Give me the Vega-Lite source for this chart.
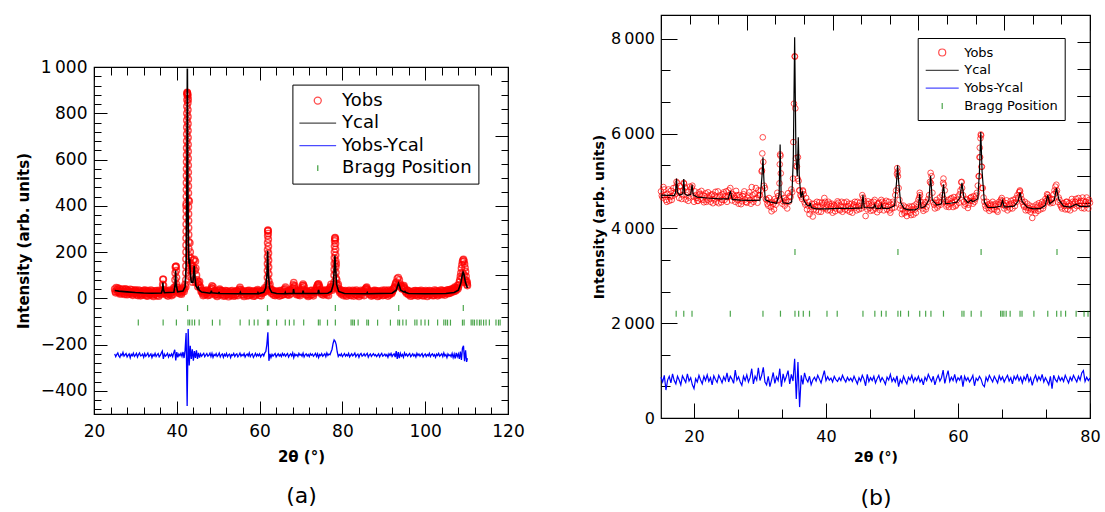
{
"$schema": "https://vega.github.io/schema/vega-lite/v6.json",
"background": "white",
"padding": {"left": 15, "top": 13, "right": 0, "bottom": 0},
"spacing": 66,
"config": {
  "font": "DejaVu Sans",
  "view": {"stroke": "#000000", "strokeWidth": 1.2},
  "axis": {"grid": false, "domain": false, "tickColor": "#000000", "tickWidth": 1, "labelColor": "#000000", "titleColor": "#000000", "labelFont": "DejaVu Sans", "titleFont": "DejaVu Sans", "labelFlush": false, "labelOverlap": false},
  "legend": {"labelFont": "DejaVu Sans", "labelColor": "#000000"}
},
"resolve": {"scale": {"color": "independent", "shape": "independent"}, "legend": {"color": "independent", "shape": "independent"}},
"datasets": {
"a": [
{"x":25,"o":40,"d":-240},{"x":25.25,"o":24,"d":-252},{"x":25.5,"o":37,"d":-243},{"x":25.75,"o":44,"d":-236},{"x":26,"o":25,"d":-249},{"x":26.25,"o":19,"d":-255},{"x":26.5,"o":36,"d":-241},{"x":26.75,"o":28,"d":-247},{"x":27,"o":40,"d":-234},{"x":27.25,"o":22,"d":-250},{"x":27.5,"o":29,"d":-244},{"x":27.75,"o":38,"d":-239},{"x":28,"o":16,"d":-253},{"x":28.25,"o":33,"d":-246},{"x":28.5,"o":24,"d":-240},{"x":28.75,"o":39,"d":-257},{"x":29,"o":18,"d":-242},{"x":29.25,"o":28,"d":-248},{"x":29.5,"o":20,"d":-237},{"x":29.75,"o":35,"d":-251},
{"x":30,"o":31,"d":-245},{"x":30.25,"o":15,"d":-238},{"x":30.5,"o":28,"d":-254},{"x":30.75,"o":36,"d":-243},{"x":31,"o":18,"d":-236},{"x":31.25,"o":11,"d":-249},{"x":31.5,"o":29,"d":-247},{"x":31.75,"o":22,"d":-241},{"x":32,"o":34,"d":-255},{"x":32.25,"o":15,"d":-239},{"x":32.5,"o":23,"d":-250},{"x":32.75,"o":31,"d":-244},{"x":33,"o":10,"d":-237},{"x":33.25,"o":28,"d":-252},{"x":33.5,"o":19,"d":-246},{"x":33.75,"o":35,"d":-240},{"x":34,"o":13,"d":-256},{"x":34.25,"o":24,"d":-243},{"x":34.5,"o":15,"d":-249},{"x":34.75,"o":32,"d":-238},
{"x":35,"o":27,"d":-251},{"x":35.25,"o":12,"d":-244},{"x":35.5,"o":25,"d":-239},{"x":35.75,"o":34,"d":-253},{"x":36,"o":22,"d":-247},{"x":36.25,"o":30,"d":-236},{"x":36.5,"o":30,"d":-228},{"x":36.75,"o":82,"d":-262},{"x":37,"o":28,"d":-241},{"x":37.25,"o":26,"d":-250},{"x":37.5,"o":14,"d":-245},{"x":37.75,"o":31,"d":-238},{"x":38,"o":19,"d":-254},{"x":38.25,"o":35,"d":-243},{"x":38.5,"o":24,"d":-249},{"x":38.75,"o":12,"d":-240},{"x":39,"o":30,"d":-252},{"x":39.25,"o":45,"d":-236},{"x":39.5,"o":40,"d":-222},{"x":39.75,"o":138,"d":-268},
{"x":40,"o":50,"d":-232},{"x":40.25,"o":45,"d":-255},{"x":40.5,"o":30,"d":-241},{"x":40.75,"o":20,"d":-248},{"x":41,"o":36,"d":-238},{"x":41.25,"o":25,"d":-251},{"x":41.5,"o":42,"d":-232},{"x":41.75,"o":30,"d":-258},{"x":42,"o":60,"d":-225},{"x":42.25,"o":400,"d":-150},{"x":42.5,"o":888,"d":-465},{"x":42.75,"o":860,"d":-133},{"x":43,"o":420,"d":-290},{"x":43.25,"o":200,"d":-205},{"x":43.5,"o":140,"d":-262},{"x":43.75,"o":130,"d":-220},{"x":44,"o":165,"d":-270},{"x":44.25,"o":168,"d":-228},{"x":44.5,"o":160,"d":-258},{"x":44.75,"o":100,"d":-225},
{"x":45,"o":65,"d":-262},{"x":45.25,"o":70,"d":-236},{"x":45.5,"o":72,"d":-256},{"x":45.75,"o":48,"d":-240},{"x":46,"o":35,"d":-250},{"x":46.25,"o":20,"d":-243},{"x":46.5,"o":32,"d":-238},{"x":46.75,"o":15,"d":-252},{"x":47,"o":28,"d":-245},{"x":47.25,"o":36,"d":-239},{"x":47.5,"o":12,"d":-250},{"x":47.75,"o":26,"d":-246},{"x":48,"o":20,"d":-237},{"x":48.25,"o":38,"d":-252},{"x":48.5,"o":54,"d":-238},{"x":48.75,"o":50,"d":-255},{"x":49,"o":30,"d":-243},{"x":49.25,"o":14,"d":-248},{"x":49.5,"o":27,"d":-239},{"x":49.75,"o":8,"d":-251},
{"x":50,"o":25,"d":-246},{"x":50.25,"o":36,"d":-237},{"x":50.5,"o":34,"d":-253},{"x":50.75,"o":18,"d":-244},{"x":51,"o":30,"d":-240},{"x":51.25,"o":10,"d":-255},{"x":51.5,"o":24,"d":-242},{"x":51.75,"o":33,"d":-249},{"x":52,"o":14,"d":-238},{"x":52.25,"o":27,"d":-252},{"x":52.5,"o":7,"d":-245},{"x":52.75,"o":22,"d":-241},{"x":53,"o":31,"d":-256},{"x":53.25,"o":13,"d":-243},{"x":53.5,"o":25,"d":-247},{"x":53.75,"o":9,"d":-238},{"x":54,"o":29,"d":-251},{"x":54.25,"o":18,"d":-244},{"x":54.5,"o":33,"d":-240},{"x":54.75,"o":12,"d":-253},
{"x":55,"o":36,"d":-246},{"x":55.25,"o":47,"d":-237},{"x":55.5,"o":38,"d":-250},{"x":55.75,"o":16,"d":-243},{"x":56,"o":28,"d":-248},{"x":56.25,"o":8,"d":-239},{"x":56.5,"o":23,"d":-254},{"x":56.75,"o":31,"d":-245},{"x":57,"o":11,"d":-241},{"x":57.25,"o":26,"d":-249},{"x":57.5,"o":34,"d":-236},{"x":57.75,"o":15,"d":-252},{"x":58,"o":22,"d":-244},{"x":58.25,"o":30,"d":-240},{"x":58.5,"o":9,"d":-255},{"x":58.75,"o":24,"d":-247},{"x":59,"o":17,"d":-238},{"x":59.25,"o":32,"d":-250},{"x":59.5,"o":38,"d":-242},{"x":59.75,"o":26,"d":-248},
{"x":60,"o":13,"d":-240},{"x":60.25,"o":28,"d":-253},{"x":60.5,"o":21,"d":-245},{"x":60.75,"o":35,"d":-241},{"x":61,"o":30,"d":-249},{"x":61.25,"o":45,"d":-236},{"x":61.5,"o":35,"d":-230},{"x":61.75,"o":48,"d":-200},{"x":62,"o":295,"d":-147},{"x":62.25,"o":55,"d":-270},{"x":62.5,"o":60,"d":-240},{"x":62.75,"o":40,"d":-256},{"x":63,"o":33,"d":-242},{"x":63.25,"o":20,"d":-250},{"x":63.5,"o":28,"d":-244},{"x":63.75,"o":12,"d":-239},{"x":64,"o":30,"d":-253},{"x":64.25,"o":18,"d":-246},{"x":64.5,"o":26,"d":-240},{"x":64.75,"o":10,"d":-249},
{"x":65,"o":31,"d":-243},{"x":65.25,"o":22,"d":-252},{"x":65.5,"o":14,"d":-238},{"x":65.75,"o":29,"d":-247},{"x":66,"o":38,"d":-241},{"x":66.25,"o":48,"d":-250},{"x":66.5,"o":30,"d":-244},{"x":66.75,"o":15,"d":-239},{"x":67,"o":27,"d":-254},{"x":67.25,"o":35,"d":-245},{"x":67.5,"o":20,"d":-240},{"x":67.75,"o":30,"d":-249},{"x":68,"o":45,"d":-236},{"x":68.25,"o":68,"d":-256},{"x":68.5,"o":55,"d":-241},{"x":68.75,"o":28,"d":-248},{"x":69,"o":16,"d":-243},{"x":69.25,"o":30,"d":-251},{"x":69.5,"o":23,"d":-238},{"x":69.75,"o":12,"d":-246},
{"x":70,"o":32,"d":-242},{"x":70.25,"o":45,"d":-250},{"x":70.5,"o":62,"d":-237},{"x":70.75,"o":50,"d":-253},{"x":71,"o":27,"d":-244},{"x":71.25,"o":14,"d":-240},{"x":71.5,"o":29,"d":-249},{"x":71.75,"o":8,"d":-243},{"x":72,"o":25,"d":-252},{"x":72.25,"o":33,"d":-239},{"x":72.5,"o":16,"d":-246},{"x":72.75,"o":28,"d":-241},{"x":73,"o":11,"d":-250},{"x":73.25,"o":30,"d":-244},{"x":73.5,"o":24,"d":-238},{"x":73.75,"o":45,"d":-251},{"x":74,"o":58,"d":-240},{"x":74.25,"o":63,"d":-256},{"x":74.5,"o":48,"d":-243},{"x":74.75,"o":30,"d":-248},
{"x":75,"o":18,"d":-239},{"x":75.25,"o":33,"d":-250},{"x":75.5,"o":22,"d":-245},{"x":75.75,"o":35,"d":-240},{"x":76,"o":28,"d":-252},{"x":76.25,"o":16,"d":-236},{"x":76.5,"o":30,"d":-247},{"x":76.75,"o":38,"d":-241},{"x":77,"o":45,"d":-244},{"x":77.25,"o":60,"d":-232},{"x":77.5,"o":35,"d":-220},{"x":77.75,"o":45,"d":-195},{"x":78,"o":70,"d":-180},{"x":78.25,"o":262,"d":-186},{"x":78.5,"o":150,"d":-200},{"x":78.75,"o":45,"d":-232},{"x":79,"o":60,"d":-251},{"x":79.25,"o":40,"d":-243},{"x":79.5,"o":30,"d":-248},{"x":79.75,"o":18,"d":-240},
{"x":80,"o":28,"d":-252},{"x":80.25,"o":12,"d":-245},{"x":80.5,"o":25,"d":-239},{"x":80.75,"o":33,"d":-250},{"x":81,"o":9,"d":-243},{"x":81.25,"o":24,"d":-248},{"x":81.5,"o":31,"d":-238},{"x":81.75,"o":14,"d":-253},{"x":82,"o":27,"d":-246},{"x":82.25,"o":20,"d":-240},{"x":82.5,"o":34,"d":-249},{"x":82.75,"o":10,"d":-244},{"x":83,"o":26,"d":-237},{"x":83.25,"o":15,"d":-252},{"x":83.5,"o":30,"d":-245},{"x":83.75,"o":22,"d":-241},{"x":84,"o":8,"d":-255},{"x":84.25,"o":27,"d":-243},{"x":84.5,"o":34,"d":-238},{"x":84.75,"o":16,"d":-250},
{"x":85,"o":25,"d":-246},{"x":85.25,"o":12,"d":-240},{"x":85.5,"o":38,"d":-249},{"x":85.75,"o":45,"d":-243},{"x":86,"o":40,"d":-238},{"x":86.25,"o":30,"d":-254},{"x":86.5,"o":18,"d":-245},{"x":86.75,"o":26,"d":-240},{"x":87,"o":10,"d":-251},{"x":87.25,"o":29,"d":-244},{"x":87.5,"o":33,"d":-239},{"x":87.75,"o":14,"d":-248},{"x":88,"o":23,"d":-243},{"x":88.25,"o":31,"d":-252},{"x":88.5,"o":8,"d":-246},{"x":88.75,"o":25,"d":-240},{"x":89,"o":16,"d":-253},{"x":89.25,"o":30,"d":-244},{"x":89.5,"o":21,"d":-238},{"x":89.75,"o":12,"d":-250},
{"x":90,"o":28,"d":-246},{"x":90.25,"o":35,"d":-241},{"x":90.5,"o":17,"d":-249},{"x":90.75,"o":24,"d":-243},{"x":91,"o":10,"d":-255},{"x":91.25,"o":30,"d":-240},{"x":91.5,"o":22,"d":-247},{"x":91.75,"o":34,"d":-238},{"x":92,"o":26,"d":-251},{"x":92.25,"o":38,"d":-244},{"x":92.5,"o":45,"d":-240},{"x":92.75,"o":58,"d":-254},{"x":93,"o":70,"d":-228},{"x":93.25,"o":85,"d":-262},{"x":93.5,"o":90,"d":-232},{"x":93.75,"o":80,"d":-258},{"x":94,"o":62,"d":-238},{"x":94.25,"o":48,"d":-250},{"x":94.5,"o":40,"d":-243},{"x":94.75,"o":52,"d":-255},
{"x":95,"o":45,"d":-236},{"x":95.25,"o":30,"d":-247},{"x":95.5,"o":22,"d":-241},{"x":95.75,"o":34,"d":-250},{"x":96,"o":15,"d":-244},{"x":96.25,"o":26,"d":-239},{"x":96.5,"o":9,"d":-252},{"x":96.75,"o":28,"d":-246},{"x":97,"o":20,"d":-240},{"x":97.25,"o":32,"d":-249},{"x":97.5,"o":13,"d":-243},{"x":97.75,"o":25,"d":-254},{"x":98,"o":31,"d":-238},{"x":98.25,"o":10,"d":-247},{"x":98.5,"o":27,"d":-241},{"x":98.75,"o":18,"d":-250},{"x":99,"o":34,"d":-244},{"x":99.25,"o":12,"d":-239},{"x":99.5,"o":24,"d":-253},{"x":99.75,"o":30,"d":-245},
{"x":100,"o":15,"d":-240},{"x":100.25,"o":28,"d":-251},{"x":100.5,"o":8,"d":-243},{"x":100.75,"o":26,"d":-248},{"x":101,"o":33,"d":-238},{"x":101.25,"o":17,"d":-252},{"x":101.5,"o":24,"d":-244},{"x":101.75,"o":12,"d":-240},{"x":102,"o":29,"d":-249},{"x":102.25,"o":36,"d":-243},{"x":102.5,"o":19,"d":-255},{"x":102.75,"o":27,"d":-241},{"x":103,"o":11,"d":-247},{"x":103.25,"o":30,"d":-238},{"x":103.5,"o":23,"d":-250},{"x":103.75,"o":35,"d":-245},{"x":104,"o":16,"d":-240},{"x":104.25,"o":26,"d":-252},{"x":104.5,"o":31,"d":-236},{"x":104.75,"o":14,"d":-249},
{"x":105,"o":28,"d":-243},{"x":105.25,"o":35,"d":-256},{"x":105.5,"o":20,"d":-240},{"x":105.75,"o":30,"d":-248},{"x":106,"o":38,"d":-244},{"x":106.25,"o":25,"d":-252},{"x":106.5,"o":33,"d":-238},{"x":106.75,"o":42,"d":-256},{"x":107,"o":30,"d":-241},{"x":107.25,"o":45,"d":-260},{"x":107.5,"o":38,"d":-236},{"x":107.75,"o":55,"d":-252},{"x":108,"o":48,"d":-240},{"x":108.25,"o":70,"d":-262},{"x":108.5,"o":95,"d":-230},{"x":108.75,"o":130,"d":-266},{"x":109,"o":158,"d":-215},{"x":109.25,"o":168,"d":-205},{"x":109.5,"o":148,"d":-272},{"x":109.75,"o":115,"d":-225},
{"x":110,"o":75,"d":-275},{"x":110.2,"o":55,"d":-258},
{"x":42.18,"o":50},{"x":42.19,"o":80},{"x":42.2,"o":110},{"x":42.21,"o":140},{"x":42.22,"o":170},{"x":42.23,"o":200},{"x":42.24,"o":230},{"x":42.25,"o":260},{"x":42.26,"o":290},{"x":42.27,"o":320},{"x":42.28,"o":350},{"x":42.29,"o":380},{"x":42.3,"o":410},{"x":42.31,"o":440},{"x":42.32,"o":470},{"x":42.33,"o":500},{"x":42.34,"o":530},{"x":42.35,"o":560},{"x":42.36,"o":590},{"x":42.37,"o":620},{"x":42.38,"o":650},{"x":42.39,"o":680},{"x":42.4,"o":710},{"x":42.41,"o":740},{"x":42.42,"o":770},{"x":42.43,"o":800},{"x":42.44,"o":830},{"x":42.45,"o":858},{"x":42.47,"o":880},
{"x":42.52,"o":890},{"x":42.57,"o":886},{"x":42.62,"o":882},
{"x":42.66,"o":875},{"x":42.67,"o":845},{"x":42.68,"o":815},{"x":42.69,"o":785},{"x":42.7,"o":755},{"x":42.71,"o":725},{"x":42.72,"o":695},{"x":42.73,"o":665},{"x":42.74,"o":635},{"x":42.75,"o":605},{"x":42.76,"o":575},{"x":42.77,"o":545},{"x":42.78,"o":515},{"x":42.79,"o":485},{"x":42.8,"o":455},{"x":42.81,"o":425},{"x":42.82,"o":395},{"x":42.83,"o":365},{"x":42.84,"o":335},{"x":42.85,"o":305},{"x":42.86,"o":275},{"x":42.87,"o":245},{"x":42.88,"o":215},{"x":42.89,"o":185},{"x":42.9,"o":155},{"x":42.92,"o":125},{"x":42.95,"o":95},
{"x":43.15,"o":240},{"x":43.35,"o":175},{"x":43.45,"o":150},{"x":43.6,"o":120},{"x":43.7,"o":100},{"x":43.8,"o":70},{"x":43.9,"o":140},{"x":44.1,"o":130},{"x":44.2,"o":80},{"x":44.4,"o":120},{"x":44.5,"o":70},{"x":44.6,"o":130},{"x":44.9,"o":80},{"x":45.1,"o":50},
{"x":61.88,"o":60},{"x":61.89,"o":90},{"x":61.9,"o":120},{"x":61.91,"o":150},{"x":61.92,"o":180},{"x":61.93,"o":210},{"x":61.94,"o":240},{"x":61.96,"o":270},{"x":61.98,"o":290},{"x":62.05,"o":293},{"x":62.08,"o":280},{"x":62.1,"o":255},{"x":62.12,"o":225},{"x":62.14,"o":195},{"x":62.16,"o":165},{"x":62.18,"o":135},{"x":62.2,"o":105},{"x":62.22,"o":75},
{"x":78,"o":100},{"x":78.02,"o":125},{"x":78.04,"o":150},{"x":78.06,"o":175},{"x":78.08,"o":200},{"x":78.1,"o":225},{"x":78.13,"o":248},{"x":78.18,"o":260},{"x":78.3,"o":255},{"x":78.33,"o":237},{"x":78.35,"o":212},{"x":78.37,"o":187},{"x":78.39,"o":162},{"x":78.41,"o":137},{"x":78.43,"o":112},{"x":78.46,"o":87},{"x":78.5,"o":65},
{"x":39.55,"o":50},{"x":39.57,"o":80},{"x":39.6,"o":110},{"x":39.65,"o":135},{"x":39.85,"o":138},{"x":39.9,"o":120},{"x":39.93,"o":90},{"x":39.96,"o":60},
{"x":36.6,"o":60},{"x":36.65,"o":82},{"x":36.8,"o":55},{"x":93.4,"o":60},{"x":93.6,"o":55},
{"x":108.9,"o":90},{"x":109.1,"o":110},{"x":109.2,"o":70},{"x":109.4,"o":100},{"x":109.6,"o":80},{"x":109.8,"o":70},{"x":110.1,"o":60},
{"x":25.125,"o":30},{"x":25.375,"o":46},{"x":25.625,"o":28},{"x":25.875,"o":35},{"x":26.125,"o":42},{"x":26.375,"o":27},{"x":26.625,"o":20},{"x":26.875,"o":38},{"x":27.125,"o":31},{"x":27.375,"o":17},{"x":27.625,"o":41},{"x":27.875,"o":26},{"x":28.125,"o":35},{"x":28.375,"o":19},{"x":28.625,"o":30},{"x":28.875,"o":24},{"x":29.125,"o":37},{"x":29.375,"o":13},{"x":29.625,"o":29},{"x":29.875,"o":22},
{"x":30.125,"o":36},{"x":30.375,"o":24},{"x":30.625,"o":12},{"x":30.875,"o":27},{"x":31.125,"o":33},{"x":31.375,"o":20},{"x":31.625,"o":14},{"x":31.875,"o":30},{"x":32.125,"o":26},{"x":32.375,"o":35},{"x":32.625,"o":11},{"x":32.875,"o":22},{"x":33.125,"o":33},{"x":33.375,"o":16},{"x":33.625,"o":27},{"x":33.875,"o":21},{"x":34.125,"o":31},{"x":34.375,"o":8},{"x":34.625,"o":26},{"x":34.875,"o":19},
{"x":35.125,"o":33},{"x":35.375,"o":22},{"x":35.625,"o":9},{"x":35.875,"o":28},{"x":36.125,"o":17},{"x":36.375,"o":34},{"x":36.875,"o":22},{"x":37.125,"o":35},{"x":37.375,"o":20},{"x":37.625,"o":27},{"x":37.875,"o":10},{"x":38.125,"o":29},{"x":38.375,"o":16},{"x":38.625,"o":33},{"x":38.875,"o":24},{"x":39.125,"o":18},{"x":39.375,"o":38},
{"x":40.125,"o":38},{"x":40.375,"o":24},{"x":40.625,"o":35},{"x":40.875,"o":28},{"x":41.125,"o":18},{"x":41.375,"o":35},{"x":41.625,"o":48},{"x":41.875,"o":40},
{"x":45.375,"o":58},{"x":45.625,"o":45},{"x":45.875,"o":30},{"x":46.125,"o":26},{"x":46.375,"o":12},{"x":46.625,"o":27},{"x":46.875,"o":33},{"x":47.125,"o":18},{"x":47.375,"o":25},{"x":47.625,"o":32},{"x":47.875,"o":14},{"x":48.125,"o":30},{"x":48.375,"o":45},{"x":48.625,"o":42},{"x":48.875,"o":24},{"x":49.125,"o":33},{"x":49.375,"o":20},{"x":49.625,"o":16},{"x":49.875,"o":31},
{"x":50.125,"o":14},{"x":50.375,"o":40},{"x":50.625,"o":26},{"x":50.875,"o":33},{"x":51.125,"o":17},{"x":51.375,"o":29},{"x":51.625,"o":11},{"x":51.875,"o":25},{"x":52.125,"o":32},{"x":52.375,"o":18},{"x":52.625,"o":28},{"x":52.875,"o":13},{"x":53.125,"o":24},{"x":53.375,"o":33},{"x":53.625,"o":17},{"x":53.875,"o":26},{"x":54.125,"o":12},{"x":54.375,"o":30},{"x":54.625,"o":22},{"x":54.875,"o":29},
{"x":55.125,"o":40},{"x":55.375,"o":30},{"x":55.625,"o":24},{"x":55.875,"o":33},{"x":56.125,"o":14},{"x":56.375,"o":27},{"x":56.625,"o":19},{"x":56.875,"o":26},{"x":57.125,"o":33},{"x":57.375,"o":12},{"x":57.625,"o":23},{"x":57.875,"o":30},{"x":58.125,"o":15},{"x":58.375,"o":25},{"x":58.625,"o":32},{"x":58.875,"o":11},{"x":59.125,"o":27},{"x":59.375,"o":30},{"x":59.625,"o":20},{"x":59.875,"o":33},
{"x":60.125,"o":22},{"x":60.375,"o":11},{"x":60.625,"o":29},{"x":60.875,"o":24},{"x":61.125,"o":36},{"x":61.375,"o":28},{"x":62.375,"o":40},{"x":62.625,"o":30},{"x":62.875,"o":22},{"x":63.125,"o":35},{"x":63.375,"o":14},{"x":63.625,"o":25},{"x":63.875,"o":31},{"x":64.125,"o":16},{"x":64.375,"o":28},{"x":64.625,"o":20},{"x":64.875,"o":33},
{"x":65.125,"o":13},{"x":65.375,"o":26},{"x":65.625,"o":35},{"x":65.875,"o":18},{"x":66.125,"o":42},{"x":66.375,"o":25},{"x":66.625,"o":20},{"x":66.875,"o":32},{"x":67.125,"o":14},{"x":67.375,"o":28},{"x":67.625,"o":36},{"x":67.875,"o":40},{"x":68.125,"o":58},{"x":68.375,"o":50},{"x":68.625,"o":40},{"x":68.875,"o":22},{"x":69.125,"o":33},{"x":69.375,"o":15},{"x":69.625,"o":28},{"x":69.875,"o":20},
{"x":70.125,"o":38},{"x":70.375,"o":55},{"x":70.625,"o":56},{"x":70.875,"o":35},{"x":71.125,"o":20},{"x":71.375,"o":31},{"x":71.625,"o":16},{"x":71.875,"o":27},{"x":72.125,"o":12},{"x":72.375,"o":24},{"x":72.625,"o":34},{"x":72.875,"o":18},{"x":73.125,"o":26},{"x":73.375,"o":36},{"x":73.625,"o":33},{"x":73.875,"o":52},{"x":74.125,"o":60},{"x":74.375,"o":55},{"x":74.625,"o":38},{"x":74.875,"o":24},
{"x":75.125,"o":28},{"x":75.375,"o":14},{"x":75.625,"o":30},{"x":75.875,"o":20},{"x":76.125,"o":34},{"x":76.375,"o":25},{"x":76.625,"o":12},{"x":76.875,"o":33},{"x":77.125,"o":50},{"x":77.375,"o":40},{"x":77.625,"o":52},{"x":77.875,"o":60},{"x":78.625,"o":80},{"x":78.875,"o":55},{"x":79.125,"o":35},{"x":79.375,"o":25},{"x":79.625,"o":36},{"x":79.875,"o":22},
{"x":80.125,"o":33},{"x":80.375,"o":19},{"x":80.625,"o":30},{"x":80.875,"o":14},{"x":81.125,"o":28},{"x":81.375,"o":20},{"x":81.625,"o":34},{"x":81.875,"o":23},{"x":82.125,"o":12},{"x":82.375,"o":29},{"x":82.625,"o":24},{"x":82.875,"o":31},{"x":83.125,"o":18},{"x":83.375,"o":35},{"x":83.625,"o":13},{"x":83.875,"o":28},{"x":84.125,"o":20},{"x":84.375,"o":15},{"x":84.625,"o":30},{"x":84.875,"o":26},
{"x":85.125,"o":33},{"x":85.375,"o":28},{"x":85.625,"o":42},{"x":85.875,"o":48},{"x":86.125,"o":35},{"x":86.375,"o":24},{"x":86.625,"o":30},{"x":86.875,"o":16},{"x":87.125,"o":22},{"x":87.375,"o":13},{"x":87.625,"o":28},{"x":87.875,"o":34},{"x":88.125,"o":17},{"x":88.375,"o":26},{"x":88.625,"o":32},{"x":88.875,"o":11},{"x":89.125,"o":27},{"x":89.375,"o":20},{"x":89.625,"o":34},{"x":89.875,"o":24},
{"x":90.125,"o":14},{"x":90.375,"o":26},{"x":90.625,"o":31},{"x":90.875,"o":19},{"x":91.125,"o":35},{"x":91.375,"o":15},{"x":91.625,"o":28},{"x":91.875,"o":21},{"x":92.125,"o":32},{"x":92.375,"o":42},{"x":92.625,"o":50},{"x":92.875,"o":65},{"x":94.125,"o":55},{"x":94.375,"o":42},{"x":94.625,"o":48},{"x":94.875,"o":55},{"x":95.125,"o":40},{"x":95.375,"o":28},{"x":95.625,"o":34},{"x":95.875,"o":20},
{"x":96.125,"o":31},{"x":96.375,"o":18},{"x":96.625,"o":24},{"x":96.875,"o":12},{"x":97.125,"o":27},{"x":97.375,"o":22},{"x":97.625,"o":33},{"x":97.875,"o":16},{"x":98.125,"o":25},{"x":98.375,"o":32},{"x":98.625,"o":14},{"x":98.875,"o":29},{"x":99.125,"o":21},{"x":99.375,"o":30},{"x":99.625,"o":11},{"x":99.875,"o":24},
{"x":100.125,"o":33},{"x":100.375,"o":20},{"x":100.625,"o":30},{"x":100.875,"o":14},{"x":101.125,"o":26},{"x":101.375,"o":31},{"x":101.625,"o":19},{"x":101.875,"o":28},{"x":102.125,"o":12},{"x":102.375,"o":24},{"x":102.625,"o":33},{"x":102.875,"o":18},{"x":103.125,"o":29},{"x":103.375,"o":15},{"x":103.625,"o":27},{"x":103.875,"o":22},{"x":104.125,"o":34},{"x":104.375,"o":20},{"x":104.625,"o":25},{"x":104.875,"o":32},
{"x":105.125,"o":21},{"x":105.375,"o":28},{"x":105.625,"o":37},{"x":105.875,"o":22},{"x":106.125,"o":31},{"x":106.375,"o":40},{"x":106.625,"o":28},{"x":106.875,"o":36},{"x":107.125,"o":48},{"x":107.375,"o":33},{"x":107.625,"o":44},{"x":107.875,"o":40},{"x":108.125,"o":58},{"x":108.375,"o":80},{"x":108.625,"o":110},{"x":108.875,"o":145},{"x":109.125,"o":165},{"x":109.375,"o":160},{"x":109.625,"o":132},{"x":109.875,"o":95},{"x":110.15,"o":68}
],
"ac": [
{"x":25,"y":34},{"x":26,"y":31},{"x":28,"y":28},{"x":30,"y":25},{"x":32,"y":23},{"x":34,"y":22},{"x":36.3,"y":23},{"x":36.55,"y":40},{"x":36.65,"y":68},{"x":36.75,"y":40},{"x":37,"y":24},{"x":39.3,"y":26},{"x":39.6,"y":60},{"x":39.72,"y":120},{"x":39.84,"y":60},{"x":40.2,"y":28},{"x":41.5,"y":32},{"x":42,"y":50},{"x":42.25,"y":140},{"x":42.42,"y":450},{"x":42.55,"y":993},{"x":42.68,"y":450},{"x":42.82,"y":220},{"x":42.95,"y":150},{"x":43.1,"y":170},{"x":43.25,"y":110},{"x":43.5,"y":70},{"x":43.9,"y":70},{"x":44.08,"y":110},{"x":44.2,"y":141},{"x":44.32,"y":100},{"x":44.6,"y":55},{"x":45,"y":42},{"x":45.2,"y":48},{"x":45.4,"y":35},{"x":46,"y":27},{"x":48,"y":22},{"x":48.25,"y":26},{"x":48.35,"y":33},{"x":48.45,"y":24},{"x":50.1,"y":21},{"x":50.2,"y":28},{"x":50.3,"y":21},{"x":55.2,"y":20},{"x":55.35,"y":26},{"x":55.5,"y":20},{"x":59.5,"y":20},{"x":59.6,"y":24},{"x":59.7,"y":20},{"x":61,"y":26},{"x":61.5,"y":45},{"x":61.8,"y":110},{"x":61.95,"y":206},{"x":62.1,"y":110},{"x":62.4,"y":45},{"x":62.9,"y":26},{"x":64.1,"y":21},{"x":66.1,"y":20},{"x":66.2,"y":25},{"x":66.3,"y":20},{"x":68.1,"y":22},{"x":68.2,"y":40},{"x":68.35,"y":22},{"x":70.4,"y":21},{"x":70.5,"y":33},{"x":70.65,"y":21},{"x":74.1,"y":21},{"x":74.25,"y":36},{"x":74.4,"y":21},{"x":76.5,"y":22},{"x":77.3,"y":30},{"x":77.8,"y":60},{"x":78.05,"y":130},{"x":78.2,"y":185},{"x":78.35,"y":130},{"x":78.6,"y":60},{"x":79.1,"y":30},{"x":80.5,"y":21},{"x":85.9,"y":20},{"x":86,"y":24},{"x":86.1,"y":20},{"x":92,"y":22},{"x":93,"y":35},{"x":93.35,"y":55},{"x":93.55,"y":65},{"x":93.75,"y":55},{"x":94.1,"y":35},{"x":94.9,"y":27},{"x":95.1,"y":30},{"x":95.3,"y":25},{"x":96,"y":21},{"x":100,"y":20},{"x":105,"y":21},{"x":107,"y":25},{"x":108,"y":35},{"x":108.6,"y":65},{"x":109,"y":105},{"x":109.15,"y":113},{"x":109.35,"y":105},{"x":109.7,"y":70},{"x":110.2,"y":45}
],
"abr": [
{"x":42.6,"y":-42},{"x":61.9,"y":-42},{"x":78.3,"y":-42},{"x":93.6,"y":-42},{"x":109.2,"y":-42},
{"x":30.7,"y":-105},{"x":36.7,"y":-105},{"x":39.9,"y":-105},{"x":42.7,"y":-105},{"x":43.1,"y":-105},{"x":43.7,"y":-105},{"x":44.3,"y":-105},{"x":45.4,"y":-105},{"x":48.6,"y":-105},{"x":50.4,"y":-105},{"x":55.3,"y":-105},{"x":57.5,"y":-105},{"x":58.7,"y":-105},{"x":59.6,"y":-105},{"x":61.9,"y":-105},{"x":62.2,"y":-105},{"x":64.1,"y":-105},{"x":66.2,"y":-105},{"x":67.2,"y":-105},{"x":68.3,"y":-105},{"x":70.65,"y":-105},{"x":74.2,"y":-105},{"x":74.6,"y":-105},{"x":76.4,"y":-105},{"x":78.3,"y":-105},{"x":82.1,"y":-105},{"x":82.5,"y":-105},{"x":82.9,"y":-105},{"x":83.8,"y":-105},{"x":85.9,"y":-105},{"x":86.3,"y":-105},{"x":88.5,"y":-105},{"x":91.6,"y":-105},{"x":93.4,"y":-105},{"x":93.8,"y":-105},{"x":94.6,"y":-105},{"x":95.4,"y":-105},{"x":97.5,"y":-105},{"x":98,"y":-105},{"x":99,"y":-105},{"x":99.95,"y":-105},{"x":100.8,"y":-105},{"x":103,"y":-105},{"x":104.5,"y":-105},{"x":104.95,"y":-105},{"x":105.4,"y":-105},{"x":106.1,"y":-105},{"x":109,"y":-105},{"x":109.4,"y":-105},{"x":111.1,"y":-105},{"x":111.5,"y":-105},{"x":111.9,"y":-105},{"x":112.5,"y":-105},{"x":113.1,"y":-105},{"x":113.5,"y":-105},{"x":114.1,"y":-105},{"x":114.7,"y":-105},{"x":115.5,"y":-105},{"x":117.1,"y":-105},{"x":117.7,"y":-105},{"x":118.1,"y":-105}
],
"la": [{"s":"Yobs","x":0,"y":0},{"s":"Ycal","x":0,"y":0},{"s":"Yobs-Ycal","x":0,"y":0},{"s":"Bragg Position","x":0,"y":0}],
"b": [
{"x":15,"o":4780,"d":860},{"x":15.25,"o":4650,"d":760},{"x":15.5,"o":4820,"d":900},{"x":15.75,"o":4600,"d":590},{"x":16,"o":4730,"d":800},{"x":16.25,"o":4580,"d":880},{"x":16.5,"o":4790,"d":740},{"x":16.75,"o":4680,"d":930},{"x":17,"o":4750,"d":790},{"x":17.25,"o":4870,"d":720},{"x":17.5,"o":4950,"d":880},{"x":17.75,"o":4640,"d":800},{"x":18,"o":4780,"d":700},{"x":18.25,"o":4700,"d":890},{"x":18.5,"o":4940,"d":820},{"x":18.75,"o":4610,"d":750},{"x":19,"o":4770,"d":930},{"x":19.25,"o":4650,"d":780},{"x":19.5,"o":4820,"d":850},{"x":19.75,"o":4900,"d":700},
{"x":20,"o":4560,"d":620},{"x":20.25,"o":4700,"d":830},{"x":20.5,"o":4580,"d":760},{"x":20.75,"o":4760,"d":900},{"x":21,"o":4620,"d":800},{"x":21.25,"o":4710,"d":720},{"x":21.5,"o":4550,"d":880},{"x":21.75,"o":4740,"d":790},{"x":22,"o":4600,"d":910},{"x":22.25,"o":4690,"d":770},{"x":22.5,"o":4560,"d":850},{"x":22.75,"o":4720,"d":700},{"x":23,"o":4610,"d":890},{"x":23.25,"o":4770,"d":810},{"x":23.5,"o":4650,"d":750},{"x":23.75,"o":4530,"d":900},{"x":24,"o":4700,"d":830},{"x":24.25,"o":4600,"d":740},{"x":24.5,"o":4760,"d":870},{"x":24.75,"o":4680,"d":790},
{"x":25,"o":4560,"d":950},{"x":25.25,"o":4800,"d":760},{"x":25.5,"o":4850,"d":880},{"x":25.75,"o":4590,"d":820},{"x":26,"o":4690,"d":730},{"x":26.25,"o":4560,"d":1010},{"x":26.5,"o":4700,"d":800},{"x":26.75,"o":4520,"d":870},{"x":27,"o":4660,"d":760},{"x":27.25,"o":4570,"d":690},{"x":27.5,"o":4720,"d":880},{"x":27.75,"o":4610,"d":790},{"x":28,"o":4540,"d":910},{"x":28.25,"o":4690,"d":760},{"x":28.5,"o":4600,"d":850},{"x":28.75,"o":4870,"d":1040},{"x":29,"o":4560,"d":720},{"x":29.25,"o":4730,"d":880},{"x":29.5,"o":4640,"d":800},{"x":29.75,"o":4800,"d":1060},
{"x":30,"o":4700,"d":790},{"x":30.25,"o":5200,"d":900},{"x":30.5,"o":5400,"d":1070},{"x":30.75,"o":4850,"d":760},{"x":31,"o":4600,"d":700},{"x":31.25,"o":4480,"d":880},{"x":31.5,"o":4540,"d":660},{"x":31.75,"o":4360,"d":800},{"x":32,"o":4520,"d":960},{"x":32.25,"o":4620,"d":730},{"x":32.5,"o":4580,"d":870},{"x":32.75,"o":4680,"d":790},{"x":33,"o":5350,"d":1040},{"x":33.25,"o":4720,"d":660},{"x":33.5,"o":4570,"d":930},{"x":33.75,"o":4480,"d":780},{"x":34,"o":4600,"d":880},{"x":34.25,"o":4740,"d":1000},{"x":34.5,"o":4680,"d":720},{"x":34.75,"o":4820,"d":920},
{"x":35,"o":5050,"d":780},{"x":35.25,"o":7630,"d":1250},{"x":35.5,"o":5320,"d":400},{"x":35.75,"o":5500,"d":1180},{"x":36,"o":4800,"d":230},{"x":36.25,"o":4670,"d":900},{"x":36.5,"o":4780,"d":710},{"x":36.75,"o":4550,"d":950},{"x":37,"o":4640,"d":820},{"x":37.25,"o":4480,"d":760},{"x":37.5,"o":4300,"d":880},{"x":37.75,"o":4460,"d":700},{"x":38,"o":4250,"d":800},{"x":38.25,"o":4520,"d":860},{"x":38.5,"o":4380,"d":780},{"x":38.75,"o":4480,"d":900},{"x":39,"o":4550,"d":820},{"x":39.25,"o":4350,"d":740},{"x":39.5,"o":4500,"d":870},{"x":39.75,"o":4640,"d":1000},
{"x":40,"o":4420,"d":790},{"x":40.25,"o":4380,"d":870},{"x":40.5,"o":4520,"d":800},{"x":40.75,"o":4470,"d":840},{"x":41,"o":4330,"d":760},{"x":41.25,"o":4490,"d":880},{"x":41.5,"o":4420,"d":810},{"x":41.75,"o":4570,"d":770},{"x":42,"o":4400,"d":850},{"x":42.25,"o":4480,"d":790},{"x":42.5,"o":4350,"d":900},{"x":42.75,"o":4540,"d":820},{"x":43,"o":4460,"d":760},{"x":43.25,"o":4380,"d":860},{"x":43.5,"o":4520,"d":790},{"x":43.75,"o":4420,"d":840},{"x":44,"o":4330,"d":770},{"x":44.25,"o":4500,"d":880},{"x":44.5,"o":4440,"d":800},{"x":44.75,"o":4560,"d":720},
{"x":45,"o":4400,"d":850},{"x":45.25,"o":4470,"d":780},{"x":45.5,"o":4700,"d":900},{"x":45.75,"o":4580,"d":820},{"x":46,"o":4260,"d":680},{"x":46.25,"o":4400,"d":920},{"x":46.5,"o":4510,"d":770},{"x":46.75,"o":4370,"d":850},{"x":47,"o":4480,"d":790},{"x":47.25,"o":4560,"d":880},{"x":47.5,"o":4420,"d":740},{"x":47.75,"o":4340,"d":830},{"x":48,"o":4540,"d":900},{"x":48.25,"o":4460,"d":770},{"x":48.5,"o":4560,"d":850},{"x":48.75,"o":4380,"d":790},{"x":49,"o":4480,"d":710},{"x":49.25,"o":4400,"d":860},{"x":49.5,"o":4560,"d":800},{"x":49.75,"o":4330,"d":920},
{"x":50,"o":4420,"d":770},{"x":50.25,"o":4520,"d":840},{"x":50.5,"o":4700,"d":760},{"x":50.75,"o":5150,"d":890},{"x":51,"o":4850,"d":660},{"x":51.25,"o":4420,"d":810},{"x":51.5,"o":4300,"d":740},{"x":51.75,"o":4480,"d":880},{"x":52,"o":4350,"d":790},{"x":52.25,"o":4260,"d":720},{"x":52.5,"o":4420,"d":860},{"x":52.75,"o":4330,"d":800},{"x":53,"o":4460,"d":900},{"x":53.25,"o":4290,"d":760},{"x":53.5,"o":4400,"d":850},{"x":53.75,"o":4520,"d":790},{"x":54,"o":4600,"d":880},{"x":54.25,"o":4700,"d":760},{"x":54.5,"o":4480,"d":820},{"x":54.75,"o":4370,"d":700},
{"x":55,"o":4550,"d":860},{"x":55.25,"o":4460,"d":790},{"x":55.5,"o":4620,"d":920},{"x":55.75,"o":4980,"d":840},{"x":56,"o":5100,"d":770},{"x":56.25,"o":4550,"d":880},{"x":56.5,"o":4420,"d":700},{"x":56.75,"o":4600,"d":820},{"x":57,"o":4480,"d":900},{"x":57.25,"o":4650,"d":780},{"x":57.5,"o":4550,"d":850},{"x":57.75,"o":4960,"d":1010},{"x":58,"o":4800,"d":730},{"x":58.25,"o":4460,"d":880},{"x":58.5,"o":4600,"d":1000},{"x":58.75,"o":4520,"d":770},{"x":59,"o":4640,"d":860},{"x":59.25,"o":4450,"d":790},{"x":59.5,"o":4590,"d":920},{"x":59.75,"o":4500,"d":760},
{"x":60,"o":4670,"d":850},{"x":60.25,"o":4720,"d":800},{"x":60.5,"o":4970,"d":900},{"x":60.75,"o":4700,"d":660},{"x":61,"o":4480,"d":880},{"x":61.25,"o":4620,"d":790},{"x":61.5,"o":4430,"d":850},{"x":61.75,"o":4580,"d":760},{"x":62,"o":4660,"d":820},{"x":62.25,"o":4520,"d":900},{"x":62.5,"o":4560,"d":680},{"x":62.75,"o":4690,"d":840},{"x":63,"o":4900,"d":790},{"x":63.25,"o":5500,"d":880},{"x":63.5,"o":5960,"d":820},{"x":63.75,"o":4850,"d":700},{"x":64,"o":4560,"d":660},{"x":64.25,"o":4420,"d":860},{"x":64.5,"o":4500,"d":780},{"x":64.75,"o":4370,"d":900},
{"x":65,"o":4480,"d":830},{"x":65.25,"o":4560,"d":760},{"x":65.5,"o":4400,"d":880},{"x":65.75,"o":4520,"d":810},{"x":66,"o":4350,"d":740},{"x":66.25,"o":4560,"d":890},{"x":66.5,"o":4600,"d":800},{"x":66.75,"o":4580,"d":870},{"x":67,"o":4420,"d":760},{"x":67.25,"o":4530,"d":840},{"x":67.5,"o":4380,"d":900},{"x":67.75,"o":4500,"d":780},{"x":68,"o":4580,"d":850},{"x":68.25,"o":4420,"d":720},{"x":68.5,"o":4540,"d":880},{"x":68.75,"o":4630,"d":810},{"x":69,"o":4700,"d":900},{"x":69.25,"o":4760,"d":790},{"x":69.5,"o":4700,"d":860},{"x":69.75,"o":4560,"d":740},
{"x":70,"o":4460,"d":870},{"x":70.25,"o":4380,"d":800},{"x":70.5,"o":4520,"d":930},{"x":70.75,"o":4430,"d":770},{"x":71,"o":4350,"d":850},{"x":71.25,"o":4220,"d":690},{"x":71.5,"o":4400,"d":820},{"x":71.75,"o":4320,"d":900},{"x":72,"o":4460,"d":780},{"x":72.25,"o":4530,"d":870},{"x":72.5,"o":4400,"d":800},{"x":72.75,"o":4560,"d":920},{"x":73,"o":4480,"d":760},{"x":73.25,"o":4620,"d":850},{"x":73.5,"o":4720,"d":780},{"x":73.75,"o":4640,"d":700},{"x":74,"o":4530,"d":880},{"x":74.25,"o":4620,"d":620},{"x":74.5,"o":4720,"d":900},{"x":74.75,"o":4880,"d":810},
{"x":75,"o":4800,"d":760},{"x":75.25,"o":4650,"d":880},{"x":75.5,"o":4500,"d":790},{"x":75.75,"o":4420,"d":850},{"x":76,"o":4530,"d":770},{"x":76.25,"o":4400,"d":900},{"x":76.5,"o":4560,"d":820},{"x":76.75,"o":4470,"d":740},{"x":77,"o":4380,"d":860},{"x":77.25,"o":4620,"d":790},{"x":77.5,"o":4500,"d":900},{"x":77.75,"o":4560,"d":830},{"x":78,"o":4470,"d":760},{"x":78.25,"o":4640,"d":880},{"x":78.5,"o":4540,"d":800},{"x":78.75,"o":4430,"d":950},{"x":79,"o":4580,"d":1000},{"x":79.25,"o":4500,"d":770},{"x":79.5,"o":4650,"d":860},{"x":79.75,"o":4420,"d":790},{"x":80,"o":4540,"d":840},
{"x":17.35,"o":4980},{"x":18.45,"o":4960},{"x":19.65,"o":4860},{"x":30.3,"o":5220},{"x":30.35,"o":5580},{"x":30.42,"o":5920},{"x":32.95,"o":4950},{"x":33.05,"o":5560},{"x":33.1,"o":5530},{"x":33.15,"o":5160},{"x":35.05,"o":5820},{"x":35.15,"o":6630},{"x":35.3,"o":7620},{"x":35.35,"o":6530},{"x":35.45,"o":5480},{"x":35.6,"o":5300},{"x":35.7,"o":5050},{"x":35.85,"o":5000},{"x":35.95,"o":4800},{"x":36.5,"o":4800},{"x":50.8,"o":5270},{"x":50.85,"o":5200},{"x":50.9,"o":5100},{"x":54.2,"o":4750},{"x":55.85,"o":5170},{"x":55.9,"o":4950},{"x":57.8,"o":5050},{"x":57.85,"o":4920},{"x":60.55,"o":4980},{"x":63.2,"o":5100},{"x":63.3,"o":5700},{"x":63.35,"o":5500},{"x":63.4,"o":5900},{"x":63.45,"o":5980},{"x":63.55,"o":5300},{"x":63.6,"o":4850},{"x":69.4,"o":4780},{"x":73.6,"o":4700},{"x":74.9,"o":4920},
{"x":15.125,"o":4690},{"x":15.375,"o":4870},{"x":15.625,"o":4700},{"x":15.875,"o":4560},{"x":16.125,"o":4820},{"x":16.375,"o":4660},{"x":16.625,"o":4600},{"x":16.875,"o":4850},{"x":17.125,"o":4720},{"x":17.625,"o":4780},{"x":17.875,"o":4890},{"x":18.125,"o":4620},{"x":18.375,"o":4800},{"x":18.625,"o":4860},{"x":18.875,"o":4700},{"x":19.125,"o":4580},{"x":19.375,"o":4880},{"x":19.875,"o":4680},
{"x":20.125,"o":4780},{"x":20.375,"o":4640},{"x":20.625,"o":4580},{"x":20.875,"o":4720},{"x":21.125,"o":4790},{"x":21.375,"o":4600},{"x":21.625,"o":4680},{"x":21.875,"o":4560},{"x":22.125,"o":4760},{"x":22.375,"o":4630},{"x":22.625,"o":4700},{"x":22.875,"o":4530},{"x":23.125,"o":4690},{"x":23.375,"o":4560},{"x":23.625,"o":4780},{"x":23.875,"o":4660},{"x":24.125,"o":4550},{"x":24.375,"o":4720},{"x":24.625,"o":4600},{"x":24.875,"o":4780},
{"x":25.125,"o":4660},{"x":25.375,"o":4700},{"x":25.625,"o":4680},{"x":25.875,"o":4720},{"x":26.125,"o":4640},{"x":26.375,"o":4790},{"x":26.625,"o":4600},{"x":26.875,"o":4700},{"x":27.125,"o":4510},{"x":27.375,"o":4680},{"x":27.625,"o":4780},{"x":27.875,"o":4560},{"x":28.125,"o":4640},{"x":28.375,"o":4760},{"x":28.625,"o":4520},{"x":28.875,"o":4700},{"x":29.125,"o":4620},{"x":29.375,"o":4850},{"x":29.625,"o":4540},{"x":29.875,"o":4700},
{"x":30.125,"o":4800},{"x":30.625,"o":4900},{"x":30.875,"o":4620},{"x":31.125,"o":4520},{"x":31.375,"o":4640},{"x":31.625,"o":4450},{"x":31.875,"o":4560},{"x":32.125,"o":4400},{"x":32.375,"o":4500},{"x":32.625,"o":4750},{"x":32.875,"o":4600},{"x":33.375,"o":4520},{"x":33.625,"o":4640},{"x":33.875,"o":4560},{"x":34.125,"o":4420},{"x":34.375,"o":4560},{"x":34.625,"o":4660},{"x":34.875,"o":4760},
{"x":36.125,"o":4700},{"x":36.375,"o":4620},{"x":36.625,"o":4720},{"x":36.875,"o":4500},{"x":37.125,"o":4400},{"x":37.375,"o":4560},{"x":37.625,"o":4380},{"x":37.875,"o":4520},{"x":38.125,"o":4400},{"x":38.375,"o":4460},{"x":38.625,"o":4560},{"x":38.875,"o":4350},{"x":39.125,"o":4460},{"x":39.375,"o":4540},{"x":39.625,"o":4420},{"x":39.875,"o":4560},
{"x":40.125,"o":4500},{"x":40.375,"o":4560},{"x":40.625,"o":4380},{"x":40.875,"o":4520},{"x":41.125,"o":4460},{"x":41.375,"o":4360},{"x":41.625,"o":4500},{"x":41.875,"o":4540},{"x":42.125,"o":4380},{"x":42.375,"o":4560},{"x":42.625,"o":4450},{"x":42.875,"o":4400},{"x":43.125,"o":4560},{"x":43.375,"o":4470},{"x":43.625,"o":4350},{"x":43.875,"o":4520},{"x":44.125,"o":4460},{"x":44.375,"o":4560},{"x":44.625,"o":4380},{"x":44.875,"o":4480},
{"x":45.125,"o":4540},{"x":45.375,"o":4420},{"x":45.625,"o":4650},{"x":45.875,"o":4460},{"x":46.125,"o":4520},{"x":46.375,"o":4570},{"x":46.625,"o":4430},{"x":46.875,"o":4550},{"x":47.125,"o":4380},{"x":47.375,"o":4600},{"x":47.625,"o":4480},{"x":47.875,"o":4520},{"x":48.125,"o":4390},{"x":48.375,"o":4600},{"x":48.625,"o":4470},{"x":48.875,"o":4540},{"x":49.125,"o":4580},{"x":49.375,"o":4460},{"x":49.625,"o":4380},{"x":49.875,"o":4500},
{"x":50.125,"o":4560},{"x":50.375,"o":4440},{"x":50.625,"o":4800},{"x":51.125,"o":4600},{"x":51.375,"o":4480},{"x":51.625,"o":4400},{"x":51.875,"o":4320},{"x":52.125,"o":4440},{"x":52.375,"o":4350},{"x":52.625,"o":4460},{"x":52.875,"o":4280},{"x":53.125,"o":4400},{"x":53.375,"o":4480},{"x":53.625,"o":4330},{"x":53.875,"o":4450},{"x":54.125,"o":4650},{"x":54.375,"o":4560},{"x":54.625,"o":4420},{"x":54.875,"o":4500},
{"x":55.125,"o":4400},{"x":55.375,"o":4560},{"x":55.625,"o":4700},{"x":56.125,"o":4750},{"x":56.375,"o":4500},{"x":56.625,"o":4540},{"x":56.875,"o":4440},{"x":57.125,"o":4560},{"x":57.375,"o":4500},{"x":57.625,"o":4700},{"x":57.875,"o":4620},{"x":58.125,"o":4560},{"x":58.375,"o":4500},{"x":58.625,"o":4450},{"x":58.875,"o":4620},{"x":59.125,"o":4540},{"x":59.375,"o":4660},{"x":59.625,"o":4470},{"x":59.875,"o":4600},
{"x":60.125,"o":4540},{"x":60.375,"o":4800},{"x":60.625,"o":4850},{"x":60.875,"o":4560},{"x":61.125,"o":4520},{"x":61.375,"o":4600},{"x":61.625,"o":4500},{"x":61.875,"o":4640},{"x":62.125,"o":4580},{"x":62.375,"o":4680},{"x":62.625,"o":4620},{"x":62.875,"o":4750},{"x":63.125,"o":5100},{"x":63.625,"o":5300},{"x":63.875,"o":4650},{"x":64.125,"o":4480},{"x":64.375,"o":4560},{"x":64.625,"o":4430},{"x":64.875,"o":4520},
{"x":65.125,"o":4400},{"x":65.375,"o":4500},{"x":65.625,"o":4460},{"x":65.875,"o":4380},{"x":66.125,"o":4480},{"x":66.375,"o":4520},{"x":66.625,"o":4640},{"x":66.875,"o":4500},{"x":67.125,"o":4470},{"x":67.375,"o":4590},{"x":67.625,"o":4460},{"x":67.875,"o":4420},{"x":68.125,"o":4520},{"x":68.375,"o":4600},{"x":68.625,"o":4470},{"x":68.875,"o":4560},{"x":69.125,"o":4640},{"x":69.375,"o":4800},{"x":69.625,"o":4620},{"x":69.875,"o":4500},
{"x":70.125,"o":4560},{"x":70.375,"o":4440},{"x":70.625,"o":4380},{"x":70.875,"o":4480},{"x":71.125,"o":4400},{"x":71.375,"o":4460},{"x":71.625,"o":4380},{"x":71.875,"o":4500},{"x":72.125,"o":4370},{"x":72.375,"o":4460},{"x":72.625,"o":4500},{"x":72.875,"o":4420},{"x":73.125,"o":4540},{"x":73.375,"o":4580},{"x":73.625,"o":4660},{"x":73.875,"o":4560},{"x":74.125,"o":4600},{"x":74.375,"o":4540},{"x":74.625,"o":4800},{"x":74.875,"o":4760},
{"x":75.125,"o":4560},{"x":75.375,"o":4600},{"x":75.625,"o":4460},{"x":75.875,"o":4520},{"x":76.125,"o":4470},{"x":76.375,"o":4560},{"x":76.625,"o":4400},{"x":76.875,"o":4530},{"x":77.125,"o":4480},{"x":77.375,"o":4560},{"x":77.625,"o":4420},{"x":77.875,"o":4620},{"x":78.125,"o":4560},{"x":78.375,"o":4480},{"x":78.625,"o":4580},{"x":78.875,"o":4650},{"x":79.125,"o":4420},{"x":79.375,"o":4560},{"x":79.625,"o":4500},{"x":79.875,"o":4600}
],
"bc": [
{"x":15,"y":4700},{"x":17,"y":4690},{"x":17.2,"y":4750},{"x":17.35,"y":5050},{"x":17.5,"y":4760},{"x":17.8,"y":4700},{"x":18.3,"y":4730},{"x":18.45,"y":5040},{"x":18.6,"y":4730},{"x":19,"y":4690},{"x":19.5,"y":4720},{"x":19.7,"y":4920},{"x":19.9,"y":4700},{"x":20.5,"y":4660},{"x":22,"y":4640},{"x":24,"y":4620},{"x":25.2,"y":4620},{"x":25.5,"y":4790},{"x":25.8,"y":4610},{"x":27,"y":4595},{"x":29,"y":4590},{"x":30,"y":4595},{"x":30.3,"y":5100},{"x":30.45,"y":5500},{"x":30.6,"y":5000},{"x":30.8,"y":4600},{"x":31.5,"y":4560},{"x":32.5,"y":4530},{"x":32.9,"y":4700},{"x":33.05,"y":5770},{"x":33.2,"y":4700},{"x":33.5,"y":4540},{"x":34.3,"y":4520},{"x":34.8,"y":4560},{"x":35.05,"y":5500},{"x":35.25,"y":8030},{"x":35.45,"y":5500},{"x":35.65,"y":5100},{"x":35.8,"y":5920},{"x":35.95,"y":5100},{"x":36.2,"y":4650},{"x":36.45,"y":4780},{"x":36.6,"y":4600},{"x":37.1,"y":4490},{"x":37.5,"y":4470},{"x":37.6,"y":4540},{"x":37.8,"y":4440},{"x":38.5,"y":4410},{"x":40,"y":4410},{"x":42,"y":4420},{"x":44,"y":4420},{"x":45.4,"y":4430},{"x":45.6,"y":4700},{"x":45.8,"y":4440},{"x":47.2,"y":4430},{"x":47.4,"y":4500},{"x":47.6,"y":4420},{"x":48.3,"y":4420},{"x":48.45,"y":4500},{"x":48.6,"y":4420},{"x":49.5,"y":4420},{"x":50.4,"y":4480},{"x":50.7,"y":5000},{"x":50.85,"y":5330},{"x":51,"y":5000},{"x":51.3,"y":4550},{"x":51.8,"y":4420},{"x":52.5,"y":4390},{"x":53.5,"y":4390},{"x":54,"y":4430},{"x":54.2,"y":4730},{"x":54.4,"y":4430},{"x":55,"y":4460},{"x":55.6,"y":4600},{"x":55.85,"y":5110},{"x":56.1,"y":4600},{"x":56.8,"y":4490},{"x":57.5,"y":4520},{"x":57.8,"y":4930},{"x":58.1,"y":4520},{"x":58.8,"y":4530},{"x":59.8,"y":4550},{"x":60.3,"y":4650},{"x":60.6,"y":4960},{"x":60.9,"y":4640},{"x":61.5,"y":4540},{"x":62,"y":4600},{"x":62.2,"y":4560},{"x":63,"y":4620},{"x":63.25,"y":5200},{"x":63.45,"y":6030},{"x":63.65,"y":5200},{"x":64,"y":4550},{"x":64.5,"y":4440},{"x":65.5,"y":4440},{"x":66.5,"y":4470},{"x":66.75,"y":4590},{"x":67,"y":4450},{"x":68.5,"y":4470},{"x":69.1,"y":4570},{"x":69.4,"y":4760},{"x":69.7,"y":4570},{"x":70.5,"y":4440},{"x":71.5,"y":4410},{"x":72.5,"y":4420},{"x":73.2,"y":4480},{"x":73.6,"y":4700},{"x":73.9,"y":4520},{"x":74.6,"y":4600},{"x":74.9,"y":4850},{"x":75.3,"y":4600},{"x":76,"y":4470},{"x":77,"y":4450},{"x":77.9,"y":4510},{"x":78.5,"y":4460},{"x":80,"y":4470}
],
"bbr": [
{"x":35.3,"y":3500},{"x":50.9,"y":3500},{"x":63.5,"y":3500},{"x":75,"y":3500},
{"x":17.3,"y":2200},{"x":18.45,"y":2200},{"x":19.7,"y":2200},{"x":25.5,"y":2200},{"x":30.45,"y":2200},{"x":33.1,"y":2200},{"x":35.3,"y":2200},{"x":35.86,"y":2200},{"x":36.56,"y":2200},{"x":37.5,"y":2200},{"x":40.15,"y":2200},{"x":41.7,"y":2200},{"x":45.6,"y":2200},{"x":47.4,"y":2200},{"x":48.4,"y":2200},{"x":49.1,"y":2200},{"x":50.9,"y":2200},{"x":51.3,"y":2200},{"x":52.5,"y":2200},{"x":54.2,"y":2200},{"x":55.1,"y":2200},{"x":55.9,"y":2200},{"x":57.8,"y":2200},{"x":60.6,"y":2200},{"x":60.9,"y":2200},{"x":62,"y":2200},{"x":63.5,"y":2200},{"x":66.45,"y":2200},{"x":66.7,"y":2200},{"x":66.95,"y":2200},{"x":67.3,"y":2200},{"x":67.9,"y":2200},{"x":69.4,"y":2200},{"x":69.7,"y":2200},{"x":71.5,"y":2200},{"x":73.6,"y":2200},{"x":74.95,"y":2200},{"x":75.6,"y":2200},{"x":76.3,"y":2200},{"x":77.9,"y":2200},{"x":79.1,"y":2200},{"x":79.7,"y":2200}
],
"lb": [{"s":"Yobs","x":0,"y":0},{"s":"Ycal","x":0,"y":0},{"s":"Yobs-Ycal","x":0,"y":0},{"s":"Bragg Position","x":0,"y":0}]
},
"hconcat": [
{
"spacing": 0,
"vconcat": [
{"width": 414, "height": 41, "view": {"stroke": null}, "data": {"values": []}, "mark": "point", "encoding": {}},
{
"width": 414, "height": 347,
"resolve": {"axis": {"x": "independent", "y": "independent"}},
"layer": [
{"data": {"name": "a"},
 "mark": {"type": "point", "shape": "circle", "filled": false, "color": "#ff0000", "size": 40, "strokeWidth": 1.4},
 "encoding": {
  "x": {"field": "x", "type": "quantitative", "scale": {"domain": [20, 120], "nice": false, "zero": false},
        "axis": {"orient": "bottom", "values": [20, 40, 60, 80, 100, 120], "tickSize": -13, "labelPadding": 22, "labelFontSize": 17, "title": "2θ (°)", "titleFontSize": 15, "titleFontWeight": "bold", "titlePadding": 10}},
  "y": {"field": "o", "type": "quantitative", "scale": {"domain": [-500, 1000], "nice": false, "zero": false},
        "axis": {"orient": "left", "values": [-400, -200, 0, 200, 400, 600, 800, 1000], "tickSize": -13, "labelPadding": 20, "labelFontSize": 17, "labelExpr": "replace(format(datum.value, ','), ',', '\u2009')", "title": "Intensity (arb. units)", "titleFontSize": 15, "titleFontWeight": "bold", "titlePadding": 9}}
 }},
{"data": {"name": "ac"},
 "mark": {"type": "line", "color": "#000000", "strokeWidth": 1.6},
 "encoding": {
  "x": {"field": "x", "type": "quantitative", "scale": {"domain": [20, 120], "nice": false, "zero": false},
        "axis": {"orient": "bottom", "values": [20,24,28,32,36,40,44,48,52,56,60,64,68,72,76,80,84,88,92,96,100,104,108,112,116,120], "tickSize": -7, "labels": false, "minExtent": 0, "title": "(a)", "titleFontSize": 22, "titleFontWeight": "normal", "titlePadding": 71}},
  "y": {"field": "y", "type": "quantitative", "scale": {"domain": [-500, 1000], "nice": false, "zero": false},
        "axis": {"orient": "left", "values": [-480,-440,-400,-360,-320,-280,-240,-200,-160,-120,-80,-40,0,40,80,120,160,200,240,280,320,360,400,440,480,520,560,600,640,680,720,760,800,840,880,920,960,1000], "tickSize": -7, "labels": false, "minExtent": 0, "title": null}}
 }},
{"data": {"name": "a"},
 "transform": [{"filter": "isValid(datum.d)"}],
 "mark": {"type": "line", "color": "#0000ff", "strokeWidth": 1.3},
 "encoding": {
  "x": {"field": "x", "type": "quantitative", "scale": {"domain": [20, 120], "nice": false, "zero": false},
        "axis": {"orient": "top", "values": [20, 40, 60, 80, 100, 120], "tickSize": -13, "labels": false, "minExtent": 10, "title": null}},
  "y": {"field": "d", "type": "quantitative", "scale": {"domain": [-500, 1000], "nice": false, "zero": false},
        "axis": {"orient": "right", "values": [-500, -200, 100, 400, 700, 1000], "tickSize": -13, "labels": false, "minExtent": 0, "title": null}}
 }},
{"data": {"name": "abr"},
 "mark": {"type": "tick", "orient": "vertical", "color": "#008000", "size": 6, "thickness": 1.2},
 "encoding": {
  "x": {"field": "x", "type": "quantitative", "scale": {"domain": [20, 120], "nice": false, "zero": false},
        "axis": {"orient": "top", "values": [20,24,28,32,36,40,44,48,52,56,60,64,68,72,76,80,84,88,92,96,100,104,108,112,116,120], "tickSize": -8, "labels": false, "minExtent": 0, "title": null}},
  "y": {"field": "y", "type": "quantitative", "scale": {"domain": [-500, 1000], "nice": false, "zero": false},
        "axis": {"orient": "right", "values": [-500,-440,-380,-320,-260,-200,-140,-80,-20,40,100,160,220,280,340,400,460,520,580,640,700,760,820,880,940,1000], "tickSize": -7, "labels": false, "minExtent": 0, "title": null}}
 }},
{"data": {"name": "la"},
 "mark": {"type": "point", "filled": false, "clip": true, "strokeWidth": 1.3},
 "encoding": {
  "x": {"field": "x", "type": "quantitative", "scale": {"domain": [20, 120], "nice": false, "zero": false}, "axis": null},
  "y": {"field": "y", "type": "quantitative", "scale": {"domain": [-500, 1000], "nice": false, "zero": false}, "axis": null},
  "color": {"field": "s", "type": "nominal",
            "scale": {"domain": ["Yobs", "Ycal", "Yobs-Ycal", "Bragg Position"], "range": ["#ff0000", "#000000", "#0000ff", "#008000"]},
            "legend": {"orient": "none", "legendX": 198.4, "legendY": 69.6, "title": null, "strokeColor": "#000000", "fillColor": "#ffffff", "padding": 6, "rowPadding": 3.5, "labelFontSize": 18, "labelOffset": 23.7, "symbolSize": 324, "symbolStrokeWidth": 1.3, "cornerRadius": 0}},
  "shape": {"field": "s", "type": "nominal",
            "scale": {"domain": ["Yobs", "Ycal", "Yobs-Ycal", "Bragg Position"], "range": ["M0.65,0A0.39,0.39,0,1,0,1.43,0A0.39,0.39,0,1,0,0.65,0Z", "M-1,0H3.08", "M-1,0H3.08", "M1.04,-0.33V0.33"]},
            "legend": {"orient": "none", "legendX": 198.4, "legendY": 69.6, "title": null, "strokeColor": "#000000", "fillColor": "#ffffff", "padding": 6, "rowPadding": 3.5, "labelFontSize": 18, "labelOffset": 23.7, "symbolSize": 324, "symbolStrokeWidth": 1.3, "cornerRadius": 0}}
 }}
]
}
]
},
{
"width": 429, "height": 403,
"resolve": {"axis": {"x": "independent", "y": "independent"}},
"layer": [
{"data": {"name": "b"},
 "mark": {"type": "point", "shape": "circle", "filled": false, "color": "#ff0000", "size": 32, "strokeWidth": 1},
 "encoding": {
  "x": {"field": "x", "type": "quantitative", "scale": {"domain": [15, 80], "nice": false, "zero": false},
        "axis": {"orient": "bottom", "values": [20, 40, 60, 80], "tickSize": -15, "labelPadding": 25, "labelFontSize": 16, "title": "2θ (°)", "titleFontSize": 14, "titleFontWeight": "bold", "titlePadding": 6}},
  "y": {"field": "o", "type": "quantitative", "scale": {"domain": [0, 8500], "nice": false, "zero": false},
        "axis": {"orient": "left", "values": [0, 2000, 4000, 6000, 8000], "tickSize": -16, "labelPadding": 22.6, "labelFontSize": 16, "labelExpr": "replace(format(datum.value, ','), ',', '\u2009')", "title": "Intensity (arb. units)", "titleFontSize": 14, "titleFontWeight": "bold", "titlePadding": 4}}
 }},
{"data": {"name": "bc"},
 "mark": {"type": "line", "color": "#000000", "strokeWidth": 1.2},
 "encoding": {
  "x": {"field": "x", "type": "quantitative", "scale": {"domain": [15, 80], "nice": false, "zero": false},
        "axis": {"orient": "bottom", "values": [20, 26.667, 33.333, 40, 46.667, 53.333, 60, 66.667, 73.333, 80], "tickSize": -9, "labels": false, "minExtent": 0, "title": "(b)", "titleFontSize": 22, "titleFontWeight": "normal", "titlePadding": 69}},
  "y": {"field": "y", "type": "quantitative", "scale": {"domain": [0, 8500], "nice": false, "zero": false},
        "axis": {"orient": "left", "values": [0, 666.67, 1333.33, 2000, 2666.67, 3333.33, 4000, 4666.67, 5333.33, 6000, 6666.67, 7333.33, 8000], "tickSize": -9, "labels": false, "minExtent": 0, "title": null}}
 }},
{"data": {"name": "b"},
 "transform": [{"filter": "isValid(datum.d)"}],
 "mark": {"type": "line", "color": "#0000ff", "strokeWidth": 1.2},
 "encoding": {
  "x": {"field": "x", "type": "quantitative", "scale": {"domain": [15, 80], "nice": false, "zero": false},
        "axis": {"orient": "top", "values": [15, 28, 41, 54, 67, 80], "tickSize": -15, "labels": false, "minExtent": 0, "title": null}},
  "y": {"field": "d", "type": "quantitative", "scale": {"domain": [0, 8500], "nice": false, "zero": false},
        "axis": {"orient": "right", "values": [0, 1700, 3400, 5100, 6800, 8500], "tickSize": -13, "labels": false, "minExtent": 0, "title": null}}
 }},
{"data": {"name": "bbr"},
 "mark": {"type": "tick", "orient": "vertical", "color": "#008000", "size": 6, "thickness": 1.2},
 "encoding": {
  "x": {"field": "x", "type": "quantitative", "scale": {"domain": [15, 80], "nice": false, "zero": false},
        "axis": {"orient": "top", "values": [15, 19.333, 23.667, 28, 32.333, 36.667, 41, 45.333, 49.667, 54, 58.333, 62.667, 67, 71.333, 75.667, 80], "tickSize": -9, "labels": false, "minExtent": 0, "title": null}},
  "y": {"field": "y", "type": "quantitative", "scale": {"domain": [0, 8500], "nice": false, "zero": false},
        "axis": {"orient": "right", "values": [0, 566.67, 1133.33, 1700, 2266.67, 2833.33, 3400, 3966.67, 4533.33, 5100, 5666.67, 6233.33, 6800, 7366.67, 7933.33, 8500], "tickSize": -13, "labels": false, "minExtent": 0, "title": null}}
 }},
{"data": {"name": "lb"},
 "mark": {"type": "point", "filled": false, "clip": true, "strokeWidth": 1.2},
 "encoding": {
  "x": {"field": "x", "type": "quantitative", "scale": {"domain": [15, 80], "nice": false, "zero": false}, "axis": null},
  "y": {"field": "y", "type": "quantitative", "scale": {"domain": [0, 8500], "nice": false, "zero": false}, "axis": null},
  "color": {"field": "s", "type": "nominal",
            "scale": {"domain": ["Yobs", "Ycal", "Yobs-Ycal", "Bragg Position"], "range": ["#ff0000", "#000000", "#0000ff", "#008000"]},
            "legend": {"orient": "none", "legendX": 256.7, "legendY": 23, "title": null, "strokeColor": "#000000", "fillColor": "#ffffff", "padding": 7, "rowPadding": 2.8, "labelFontSize": 13, "labelOffset": 24.5, "symbolSize": 169, "symbolStrokeWidth": 1.2, "cornerRadius": 0}},
  "shape": {"field": "s", "type": "nominal",
            "scale": {"domain": ["Yobs", "Ycal", "Yobs-Ycal", "Bragg Position"], "range": ["M1,0A0.54,0.54,0,1,0,2.08,0A0.54,0.54,0,1,0,1,0Z", "M-1,0H4.08", "M-1,0H4.08", "M1.54,-0.46V0.46"]},
            "legend": {"orient": "none", "legendX": 256.7, "legendY": 23, "title": null, "strokeColor": "#000000", "fillColor": "#ffffff", "padding": 7, "rowPadding": 2.8, "labelFontSize": 13, "labelOffset": 24.5, "symbolSize": 169, "symbolStrokeWidth": 1.2, "cornerRadius": 0}}
 }}
]
}
]
}
